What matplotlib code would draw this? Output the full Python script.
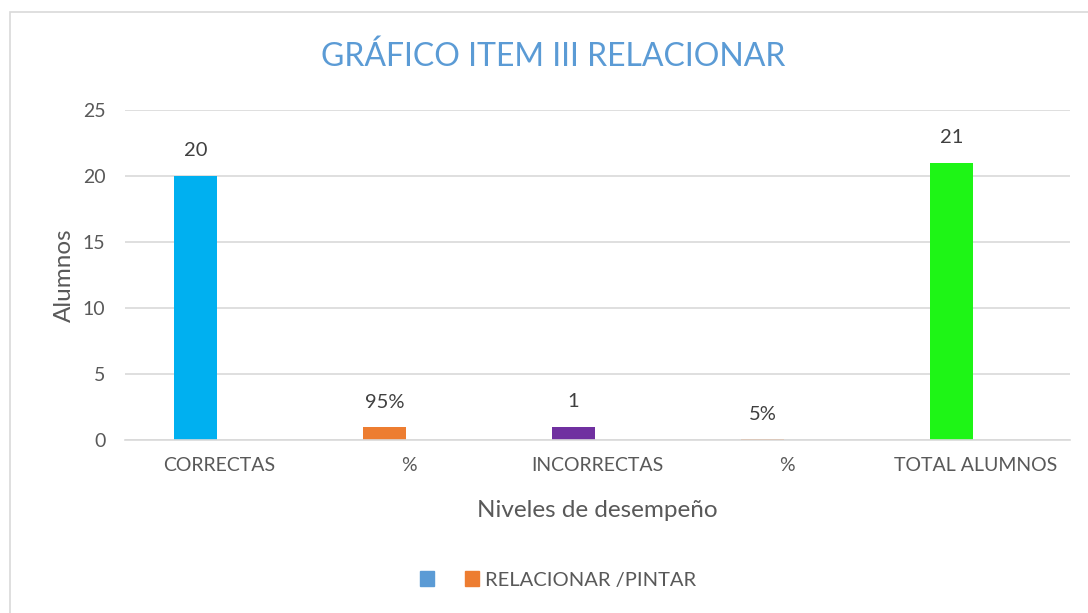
import matplotlib
matplotlib.use("Agg")
import matplotlib.pyplot as plt
from matplotlib.patches import Rectangle, Patch

plt.rcParams['font.family'] = ['Lato', 'DejaVu Sans']

# data
categorias = ['CORRECTAS', '%', 'INCORRECTAS', '%', 'TOTAL ALUMNOS']
valores = [20, 0.95, 1, 0.05, 21]
etiquetas = ['20', '95%', '1', '5%', '21']
colores = ['#00B0F0', '#ED7D31', '#7030A0', '#ED7D31', '#1EF516']
serie_nombres = ['', 'RELACIONAR /PINTAR']
serie_colores = ['#5B9BD5', '#ED7D31']

gris = '#595959'

fig = plt.figure(figsize=(10.88, 6.13), dpi=100)
fig.patches.append(Rectangle((10 / 1088, -0.01), 1.1, 1 - 12 / 613 + 0.01,
                             transform=fig.transFigure, fill=False,
                             edgecolor='#D9D9D9', linewidth=1.2))

ax = fig.add_axes([125 / 1088, 1 - 440 / 613, (1070 - 125) / 1088, 330 / 613])

x = list(range(len(categorias)))
pos = [i - 0.127 for i in x]
bars = ax.bar(pos, valores, width=0.23, color=colores, zorder=3)

for b, lab in zip(bars, etiquetas):
    ax.annotate(lab, (b.get_x() + b.get_width() / 2, b.get_height()),
                xytext=(0, 18), textcoords='offset points',
                ha='center', va='center', fontsize=14.5, color='#404040')

ax.set_xlim(-0.5, 4.5)
ax.set_ylim(0, 25)
ax.set_yticks([0, 5, 10, 15, 20, 25])
ax.set_xticks(x)
ax.set_xticklabels(categorias)
ax.tick_params(axis='both', length=0, labelsize=14, labelcolor=gris)
ax.tick_params(axis='x', pad=12)
ax.tick_params(axis='y', pad=14)
ax.grid(axis='y', color='#D9D9D9', linewidth=1.2, zorder=0)
for s in ['top', 'right', 'left']:
    ax.spines[s].set_visible(False)
ax.spines['bottom'].set_color('#D9D9D9')
ax.spines['bottom'].set_linewidth(1.2)
ax.spines['bottom'].set_zorder(4)

ax.set_ylabel('Alumnos', fontsize=17.5, color=gris, labelpad=6)
ax.set_xlabel('Niveles de desempeño', fontsize=17.5, color=gris, labelpad=19)

fig.text(553 / 1088, 1 - 57 / 613, 'GRÁFICO ITEM III RELACIONAR', ha='center',
         va='center', fontsize=23, color='#5B9BD5')

handles = [Patch(color=c) for c in serie_colores]
fig.legend(handles, serie_nombres, loc='center', bbox_to_anchor=(558 / 1088, 1 - 580 / 613),
           ncol=2, frameon=False, fontsize=14.5, labelcolor=gris,
           handlelength=0.7, handleheight=0.7, columnspacing=1.2, handletextpad=0.3)

fig.savefig('out.png', dpi=100)
